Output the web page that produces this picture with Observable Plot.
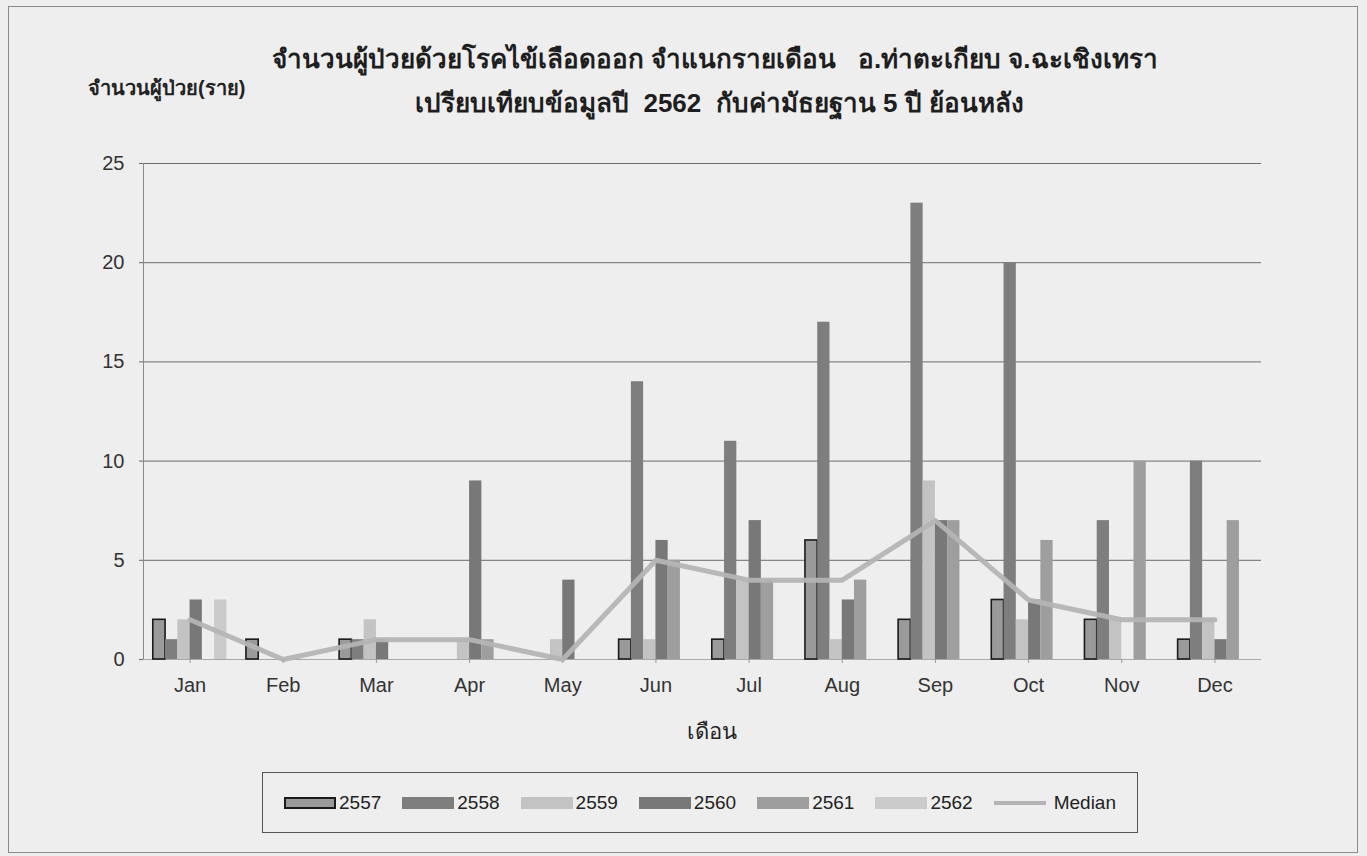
<!DOCTYPE html>
<html>
<head>
<meta charset="utf-8">
<script src="https://cdn.jsdelivr.net/npm/d3@7"></script>
<script src="https://cdn.jsdelivr.net/npm/@observablehq/plot@0.6"></script>
<style>
  html, body { margin: 0; padding: 0; background: #efefef; }
  #page { position: relative; width: 1367px; height: 856px; background: #eeeeee; overflow: hidden;
          font-family: "Liberation Sans", Arial, sans-serif; color: #222; }
  #frame { position: absolute; left: 8px; top: 6px; width: 1348px; height: 845px; border: 1px solid #8a8a8a; }
  .title { position: absolute; white-space: nowrap; font-weight: bold; font-size: 26px; color: #1e1e1e; }
  #ylabel { position: absolute; left: 88px; top: 72px; font-size: 20px; font-weight: bold; color: #222; white-space: nowrap; }
  #xlabel { position: absolute; left: 0; width: 1424px; top: 714px; text-align: center; font-size: 22px; color: #222; }
  #chart { position: absolute; left: 0; top: 140px; }
  #legend { position: absolute; left: 262px; top: 772px; width: 876px; height: 61px; border: 1px solid #555;
            display: flex; align-items: center; padding-left: 21px; box-sizing: border-box; font-size: 19px; }
  .item { display: flex; align-items: center; margin-right: 21px; }
  .sw { width: 52px; height: 12px; margin-right: 3px; box-sizing: border-box; }
  .ln { width: 52px; height: 4px; margin-right: 8px; }
</style>
</head>
<body>
<div id="page">
  <div id="frame"></div>
  <div class="title" id="t1" style="left:272px; top:38px;">จำนวนผู้ป่วยด้วยโรคไข้เลือดออก จำแนกรายเดือน &nbsp; อ.ท่าตะเกียบ จ.ฉะเชิงเทรา</div>
  <div class="title" id="t2" style="left:415px; top:82px;">เปรียบเทียบข้อมูลปี &nbsp;2562 &nbsp;กับค่ามัธยฐาน 5 ปี ย้อนหลัง</div>
  <div id="ylabel">จำนวนผู้ป่วย(ราย)</div>
  <div id="chart"></div>
  <div id="xlabel">เดือน</div>
  <div id="legend"></div>
</div>
<script>
// ---- data ----
const months = ["Jan","Feb","Mar","Apr","May","Jun","Jul","Aug","Sep","Oct","Nov","Dec"];
const years = ["2557","2558","2559","2560","2561","2562"];
const y2557 = [2, 1, 1, 0, 0, 1, 1, 6, 2, 3, 2, 1];
const y2558 = [1, 0, 1, 0, 0, 14, 11, 17, 23, 20, 7, 10];
const y2559 = [2, 0, 2, 1, 1, 1, 4, 1, 9, 2, 2, 2];
const y2560 = [3, 0, 1, 9, 4, 6, 7, 3, 7, 3, 0, 1];
const y2561 = [0, 0, 0, 1, 0, 5, 4, 4, 7, 6, 10, 7];
const y2562 = [3, 0, 0, 0, 0, 0, 0, 0, 0, 0, 0, 0];
const median = [2, 0, 1, 1, 0, 5, 4, 4, 7, 3, 2, 2];
const yTicks = [0, 5, 10, 15, 20, 25];

// ---- styles ----
const colors = ["#9a9a9a", "#7e7e7e", "#c3c3c3", "#787878", "#9e9e9e", "#cbcbcb"];
const medianColor = "#b4b4b4";

const series = [y2557, y2558, y2559, y2560, y2561, y2562];
const groupW = 0.79, barW = groupW / years.length;
const bars = [];
series.forEach((vals, k) => vals.forEach((v, i) => {
  const x1 = i - groupW / 2 + k * barW;
  bars.push({year: years[k], month: i, x1, x2: x1 + barW, value: v});
}));
const medData = median.map((v, i) => ({month: i, value: v}));

const chart = Plot.plot({
  width: 1367,
  height: 620,
  marginLeft: 143,
  marginRight: 106,
  marginTop: 23,
  marginBottom: 101,
  style: {background: "transparent", fontFamily: "Liberation Sans, Arial, sans-serif", fontSize: "20px", color: "#333"},
  x: {domain: [-0.5, 11.5], axis: null},
  y: {domain: [0, 25], axis: null},
  color: {domain: years, range: colors},
  marks: [
    Plot.ruleY(yTicks.filter(d => d > 0), {stroke: "#555", strokeWidth: 1, strokeOpacity: 0.85}),
    Plot.ruleY([0], {stroke: "#a8a8a8", strokeWidth: 1}),
    Plot.ruleX([-0.5], {y1: 0, y2: 25, stroke: "#8a8a8a", strokeWidth: 1}),
    Plot.axisY({ticks: yTicks, tickSize: 4, tickPadding: 15, tickFormat: d => String(d), label: null, stroke: "#666"}),
    Plot.axisX({ticks: d3.range(12), tickSize: 4, tickPadding: 14, tickFormat: i => months[i], label: null, stroke: "#999"}),
    Plot.rectY(bars.filter(d => d.value > 0), {
      x1: "x1", x2: "x2", y1: 0, y2: "value", fill: "year",
      stroke: d => d.year === "2557" ? "#1a1a1a" : "none", strokeWidth: 1.6
    }),
    Plot.line(medData, {x: "month", y: "value", stroke: medianColor, strokeWidth: 5, strokeOpacity: 0.95})
  ]
});
document.getElementById("chart").appendChild(chart);

// ---- legend ----
const legend = document.getElementById("legend");
years.forEach((y, k) => {
  const it = document.createElement("div"); it.className = "item";
  const sw = document.createElement("div"); sw.className = "sw"; sw.style.background = colors[k];
  if (y === "2557") sw.style.border = "2px solid #1a1a1a";
  const tx = document.createElement("span"); tx.textContent = y;
  it.appendChild(sw); it.appendChild(tx); legend.appendChild(it);
});
const it = document.createElement("div"); it.className = "item";
const ln = document.createElement("div"); ln.className = "ln"; ln.style.background = medianColor;
const tx = document.createElement("span"); tx.textContent = "Median";
it.appendChild(ln); it.appendChild(tx); legend.appendChild(it);
</script>
</body>
</html>
